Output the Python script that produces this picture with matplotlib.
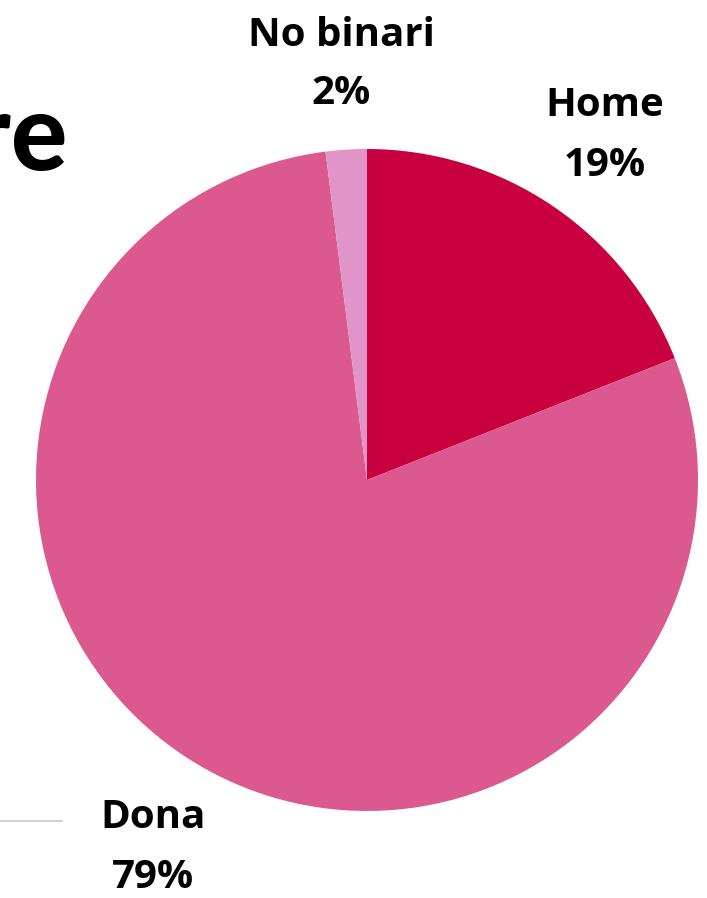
import matplotlib.pyplot as plt

labels = ['Home', 'Dona', 'No binari']
values = [19, 79, 2]
colors = ['#C8003F', '#DC598F', '#E094C8']
# label anchor positions in pixels (centre x, y of first line)
label_pos = [(605, 106), (153, 818), (341, 35)]

W, H = 707, 898
fig = plt.figure(figsize=(W / 100, H / 100), dpi=100)
ax = fig.add_axes([36 / W, 87 / H, 662 / W, 662 / H])
ax.pie(values, colors=colors, startangle=90, counterclock=False,
       wedgeprops=dict(linewidth=0), radius=1)
ax.set_xlim(-1, 1)
ax.set_ylim(-1, 1)
ax.set_aspect('equal')
ax.axis('off')

for lab, v, (x, y) in zip(labels, values, label_pos):
    fig.text(x / W, 1 - y / H, lab, ha='center', va='center',
             fontsize=29, fontweight='bold', family='Open Sans')
    fig.text(x / W, 1 - (y + 59) / H, f'{v}%', ha='center', va='center',
             fontsize=29, fontweight='bold', family='Open Sans')

# clipped title remnant and legend line on the left
fig.text(68 / W, 1 - 170 / H, 'Gènere', ha='right', va='baseline',
         fontsize=76, fontweight='black', family='Lato')
fig.add_artist(plt.Line2D([0, 62 / W], [1 - 821 / H, 1 - 821 / H],
                          color='#C8C8C8', linewidth=1.2))

fig.savefig('out.png', dpi=100)
